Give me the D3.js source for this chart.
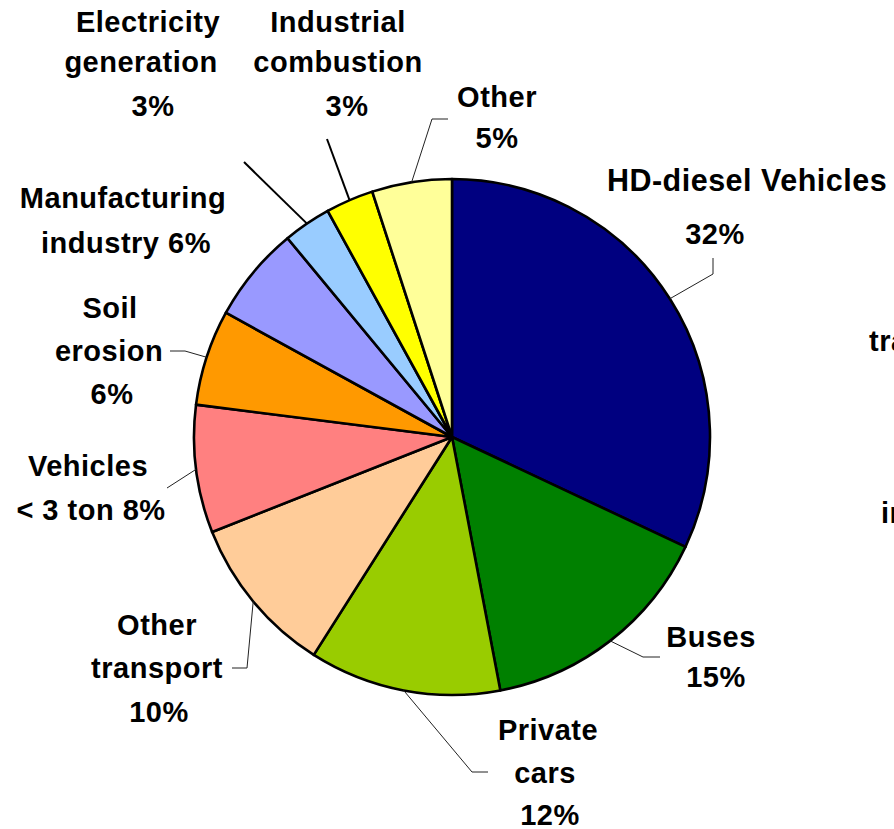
<!DOCTYPE html>
<html>
<head>
<meta charset="utf-8">
<script src="https://cdn.jsdelivr.net/npm/d3@7"></script>
<style>
  html, body { margin: 0; padding: 0; background: #fff; }
  svg { display: block; }
  text { font-family: "Liberation Sans", Arial, sans-serif; font-weight: bold; fill: #000; }
</style>
</head>
<body>
<svg id="chart" width="894" height="829"></svg>
<script>
// Emission sources and their shares (%)
const categories = [
  "HD-diesel Vehicles", "Buses", "Private cars", "Other transport",
  "Vehicles < 3 ton", "Soil erosion", "Manufacturing industry",
  "Electricity generation", "Industrial combustion", "Other"
];
const shares = [32, 15, 12, 10, 8, 6, 6, 3, 3, 5];
const colours = [
  "#000080", "#008000", "#99CC00", "#FFCC99", "#FF8080",
  "#FF9900", "#9999FF", "#99CCFF", "#FFFF00", "#FFFF99"
];
// Text lines of each slice label
const labelLines = [
  ["HD-diesel Vehicles", "32%"],
  ["Buses", "15%"],
  ["Private", "cars", "12%"],
  ["Other", "transport", "10%"],
  ["Vehicles", "< 3 ton 8%"],
  ["Soil", "erosion", "6%"],
  ["Manufacturing", "industry 6%"],
  ["Electricity", "generation", "3%"],
  ["Industrial", "combustion", "3%"],
  ["Other", "5%"]
];

// Label placement: centre of each text line, and leader-line elbows
const labelLayout = [
  { lines: [[747, 180], [715, 234]], leader: [[713, 274], [713, 258]], lw: 1 },
  { lines: [[711, 637], [716, 677]], leader: [[643, 657], [660, 657]], lw: 1 },
  { lines: [[548, 730], [545, 773], [550, 815]], leader: [[472, 772], [488, 772]], lw: 1 },
  { lines: [[157, 625], [157, 668], [159, 712]], leader: [[247, 668], [232, 668]], lw: 1 },
  { lines: [[88, 466], [91, 510]], leader: [[167, 488]], lw: 1 },
  { lines: [[110, 308], [109, 351], [112, 394]], leader: [[185, 351], [170, 351]], lw: 1 },
  { lines: [[123, 198], [126, 243]], leader: null, lw: 1 },
  { lines: [[148, 22], [141, 62], [153, 106]], leader: [[244, 162]], lw: 2 },
  { lines: [[338, 22], [338, 62], [347, 106]], leader: [[327, 139]], lw: 2 },
  { lines: [[497, 97], [497, 138]], leader: [[432, 119], [448, 119]], lw: 1 }
];

const fontSize = 29;
const cx = 452, cy = 437, radius = 258;

const svg = d3.select("#chart");
svg.append("rect").attr("width", 894).attr("height", 829).attr("fill", "#fff");

const pie = d3.pie().sort(null).value(d => d.value).startAngle(0).endAngle(2 * Math.PI);
const data = categories.map((c, i) => ({ name: c, value: shares[i], colour: colours[i], i }));
const arcs = pie(data);

const arc = d3.arc().innerRadius(0).outerRadius(radius);
const edge = d3.arc().innerRadius(radius).outerRadius(radius);

const g = svg.append("g").attr("transform", `translate(${cx},${cy})`);

g.selectAll("path.slice")
  .data(arcs)
  .join("path")
  .attr("class", "slice")
  .attr("d", arc)
  .attr("fill", d => d.data.colour)
  .attr("stroke", "#000")
  .attr("stroke-width", 2.6)
  .attr("stroke-linejoin", "round");

// Leader lines from the slice edge to its label
const line = d3.line();
arcs.forEach((a, i) => {
  const lay = labelLayout[i];
  if (!lay.leader) return;
  const p0 = edge.centroid(a);
  const pts = [[p0[0] + cx, p0[1] + cy], ...lay.leader];
  svg.append("path")
    .attr("d", line(pts))
    .attr("fill", "none")
    .attr("stroke", lay.lw > 1 ? "#000" : "#222")
    .attr("stroke-width", lay.lw);
});

// Slice labels
arcs.forEach((a, i) => {
  const lay = labelLayout[i];
  labelLines[i].forEach((txt, k) => {
    const [x, y] = lay.lines[k];
    svg.append("text")
      .attr("x", x)
      .attr("y", y)
      .attr("dy", "0.36em")
      .attr("text-anchor", "middle")
      .attr("font-size", i === 0 && k === 0 ? 30.5 : fontSize)
      .attr("letter-spacing", "0.5px")
      .text(txt);
  });
});

// Labels of a neighbouring chart running in from the right edge
const edgeLabels = [["tra", 869, 341], ["in", 881, 513]];
edgeLabels.forEach(([t, x, y]) => {
  svg.append("text")
    .attr("x", x).attr("y", y).attr("dy", "0.36em")
    .attr("font-size", fontSize)
    .attr("letter-spacing", "0.5px")
    .text(t);
});
</script>
</body>
</html>
